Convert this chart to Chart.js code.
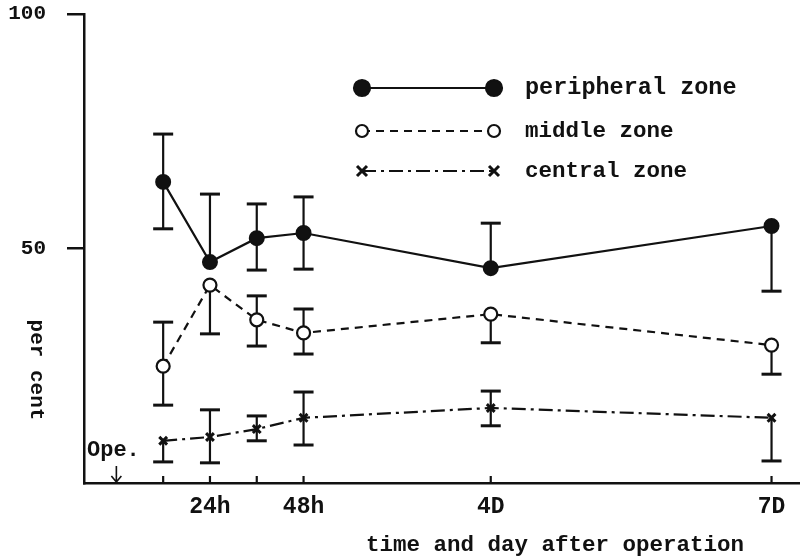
<!DOCTYPE html>
<html>
<head>
<meta charset="utf-8">
<script src="https://cdn.jsdelivr.net/npm/chart.js@4.4.1/dist/chart.umd.min.js"></script>
<style>
html,body{margin:0;padding:0;background:#fff;}
#wrap{width:800px;height:557px;position:relative;}
</style>
</head>
<body>
<div id="wrap"><canvas id="c" width="800" height="557"></canvas></div>
<script>
// ---- data (hours after operation) ----
const hours = [12, 24, 36, 48, 96, 168];
const xTickHours = [12, 24, 36, 48, 96, 168];
const xLabelHours = [24, 48, 96, 168];
const xLabelText = ['24h', '48h', '4D', '7D'];
const yTickValues = [50, 100];

const peripheral = [64.2, 47.1, 52.2, 53.3, 45.8, 54.8];
const peripheralHi = [74.4, 61.6, 59.5, 61.0, 55.4, null];
const peripheralLo = [54.2, null, 45.4, 45.6, null, 40.9];

const middle = [24.9, 42.2, 34.8, 32.0, 36.0, 29.4];
const middleHi = [34.3, null, 39.9, 37.1, null, null];
const middleLo = [16.6, 31.8, 29.2, 27.5, 29.9, 23.2];

const central = [9.0, 9.8, 11.5, 13.9, 16.0, 13.9];
const centralHi = [null, 15.6, 14.3, 19.4, 19.6, null];
const centralLo = [4.5, 4.3, 9.0, 8.1, 12.2, 4.7];

const seriesNames = ['peripheral zone', 'middle zone', 'central zone'];

const INK = '#111';
const FONT = "'Liberation Mono', 'DejaVu Sans Mono', monospace";

function pts(vals){ return hours.map((h,i)=>({x:h, y:vals[i]})); }

const errData = [
  {hi: peripheralHi, lo: peripheralLo},
  {hi: middleHi, lo: middleLo},
  {hi: centralHi, lo: centralLo}
];

function drawMarker(ctx, style, x, y, r, filled){
  ctx.save();
  ctx.strokeStyle = INK; ctx.fillStyle = filled ? INK : '#fff';
  ctx.setLineDash([]);
  if (style === 'circle'){
    ctx.lineWidth = 2.2;
    ctx.beginPath(); ctx.arc(x,y,r,0,Math.PI*2); ctx.fill(); ctx.stroke();
  } else {
    ctx.lineWidth = 3;
    ctx.beginPath();
    ctx.moveTo(x-r,y-r); ctx.lineTo(x+r,y+r);
    ctx.moveTo(x+r,y-r); ctx.lineTo(x-r,y+r);
    ctx.stroke();
  }
  ctx.restore();
}

function zeroPad(s){ s.paddingTop = 0; s.paddingBottom = 0; s.paddingLeft = 0; s.paddingRight = 0; }

const errorBarPlugin = {
  id: 'errorBars',
  beforeDatasetsDraw(chart){
    const ctx = chart.ctx, xs = chart.scales.x, ys = chart.scales.y;
    ctx.save();
    ctx.strokeStyle = INK;
    ctx.setLineDash([]);
    chart.data.datasets.forEach((ds, di)=>{
      const e = errData[di];
      hours.forEach((h,i)=>{
        const px = xs.getPixelForValue(h);
        const py = ys.getPixelForValue(ds.data[i].y);
        [e.hi[i], e.lo[i]].forEach(v=>{
          if (v === null || v === undefined) return;
          const ey = ys.getPixelForValue(v);
          ctx.lineWidth = 2.2;
          ctx.beginPath(); ctx.moveTo(px, py); ctx.lineTo(px, ey); ctx.stroke();
          ctx.lineWidth = 3;
          ctx.beginPath(); ctx.moveTo(px-10, ey); ctx.lineTo(px+10, ey); ctx.stroke();
        });
      });
    });
    ctx.restore();
  },
  afterDraw(chart){
    const ctx = chart.ctx, xs = chart.scales.x, ys = chart.scales.y;
    const area = chart.chartArea;
    ctx.save();
    ctx.strokeStyle = INK; ctx.fillStyle = INK;
    // inward x ticks
    ctx.lineWidth = 2.2;
    xTickHours.forEach(h=>{
      const px = xs.getPixelForValue(h);
      ctx.beginPath(); ctx.moveTo(px, area.bottom); ctx.lineTo(px, area.bottom-7); ctx.stroke();
    });
    // operation arrow
    const ox = xs.getPixelForValue(0);
    ctx.lineWidth = 1.6;
    ctx.beginPath(); ctx.moveTo(ox, area.bottom-17); ctx.lineTo(ox, area.bottom-1);
    ctx.moveTo(ox-5, area.bottom-7); ctx.lineTo(ox, area.bottom-1); ctx.lineTo(ox+5, area.bottom-7);
    ctx.stroke();
    ctx.font = 'bold 22px ' + FONT;
    ctx.textAlign = 'left'; ctx.textBaseline = 'middle';
    ctx.fillText('Ope.', 87, area.bottom-33);
    // axis titles
    ctx.font = 'bold 22.5px ' + FONT;
    ctx.textAlign = 'center';
    ctx.fillText('time and day after operation', 555, 545);
    ctx.save();
    ctx.translate(36, 370);
    ctx.rotate(Math.PI/2);
    ctx.font = 'bold 21px ' + FONT;
    ctx.fillText('per cent', 0, 0);
    ctx.restore();
    // legend
    const legY = [88, 131, 171];
    const styles = chart.data.datasets;
    ctx.textAlign = 'left';
    styles.forEach((ds, i)=>{
      const y = legY[i];
      ctx.save();
      ctx.lineWidth = 2.2;
      ctx.setLineDash(ds.borderDash || []);
      ctx.beginPath(); ctx.moveTo(362, y); ctx.lineTo(494, y); ctx.stroke();
      ctx.restore();
      const r = i === 0 ? 8 : (i === 1 ? 6 : 5);
      drawMarker(ctx, ds.pointStyle, 362, y, r, i === 0);
      drawMarker(ctx, ds.pointStyle, 494, y, r, i === 0);
      ctx.font = 'bold ' + (i === 0 ? 23.5 : 22.5) + 'px ' + FONT;
      ctx.fillText(seriesNames[i], 525, y);
    });
    ctx.restore();
  }
};

new Chart(document.getElementById('c'), {
  type: 'line',
  data: {
    datasets: [
      { label: seriesNames[0], data: pts(peripheral), borderColor: INK, backgroundColor: INK,
        borderWidth: 2.2, pointStyle: 'circle', pointRadius: 7, pointBorderWidth: 2,
        pointBackgroundColor: INK, pointBorderColor: INK, tension: 0, fill: false },
      { label: seriesNames[1], data: pts(middle), borderColor: INK, backgroundColor: '#fff',
        borderWidth: 2.2, borderDash: [8, 6], pointStyle: 'circle', pointRadius: 6.5, pointBorderWidth: 2.2,
        pointBackgroundColor: '#fff', pointBorderColor: INK, tension: 0, fill: false },
      { label: seriesNames[2], data: pts(central), borderColor: INK, backgroundColor: INK,
        borderWidth: 2.2, borderDash: [14, 5, 3, 5], pointStyle: 'crossRot', pointRadius: 5.5, pointBorderWidth: 3,
        pointBorderColor: INK, tension: 0, fill: false }
    ]
  },
  options: {
    responsive: false,
    animation: false,
    layout: { autoPadding: false, padding: { top: 14, right: 0, bottom: 0, left: 0 } },
    plugins: { legend: { display: false }, tooltip: { enabled: false } },
    scales: {
      x: {
        type: 'linear', min: -8.3, max: 175.3,
        border: { display: true, color: INK, width: 2.5 },
        grid: { display: false, drawTicks: false },
        afterBuildTicks: s => { s.ticks = xLabelHours.map(v=>({value:v})); },
        afterFit: s => { s.height = 74; zeroPad(s); },
        ticks: {
          color: INK, padding: 10, autoSkip: false, maxRotation: 0,
          font: { family: FONT, size: 23, weight: 'bold' },
          callback: v => { const k = xLabelHours.indexOf(v); return k >= 0 ? xLabelText[k] : ''; }
        }
      },
      y: {
        type: 'linear', min: 0, max: 100,
        border: { display: true, color: INK, width: 2.5 },
        grid: { display: true, drawOnChartArea: false, drawTicks: true, tickLength: 17, color: INK, lineWidth: 2.5 },
        afterBuildTicks: s => { s.ticks = yTickValues.map(v=>({value:v})); },
        afterFit: s => { s.width = 84; zeroPad(s); },
        ticks: {
          color: INK, padding: 21, autoSkip: false,
          font: { family: FONT, size: 21, weight: 'bold' }
        }
      }
    }
  },
  plugins: [errorBarPlugin]
});
</script>
</body>
</html>
